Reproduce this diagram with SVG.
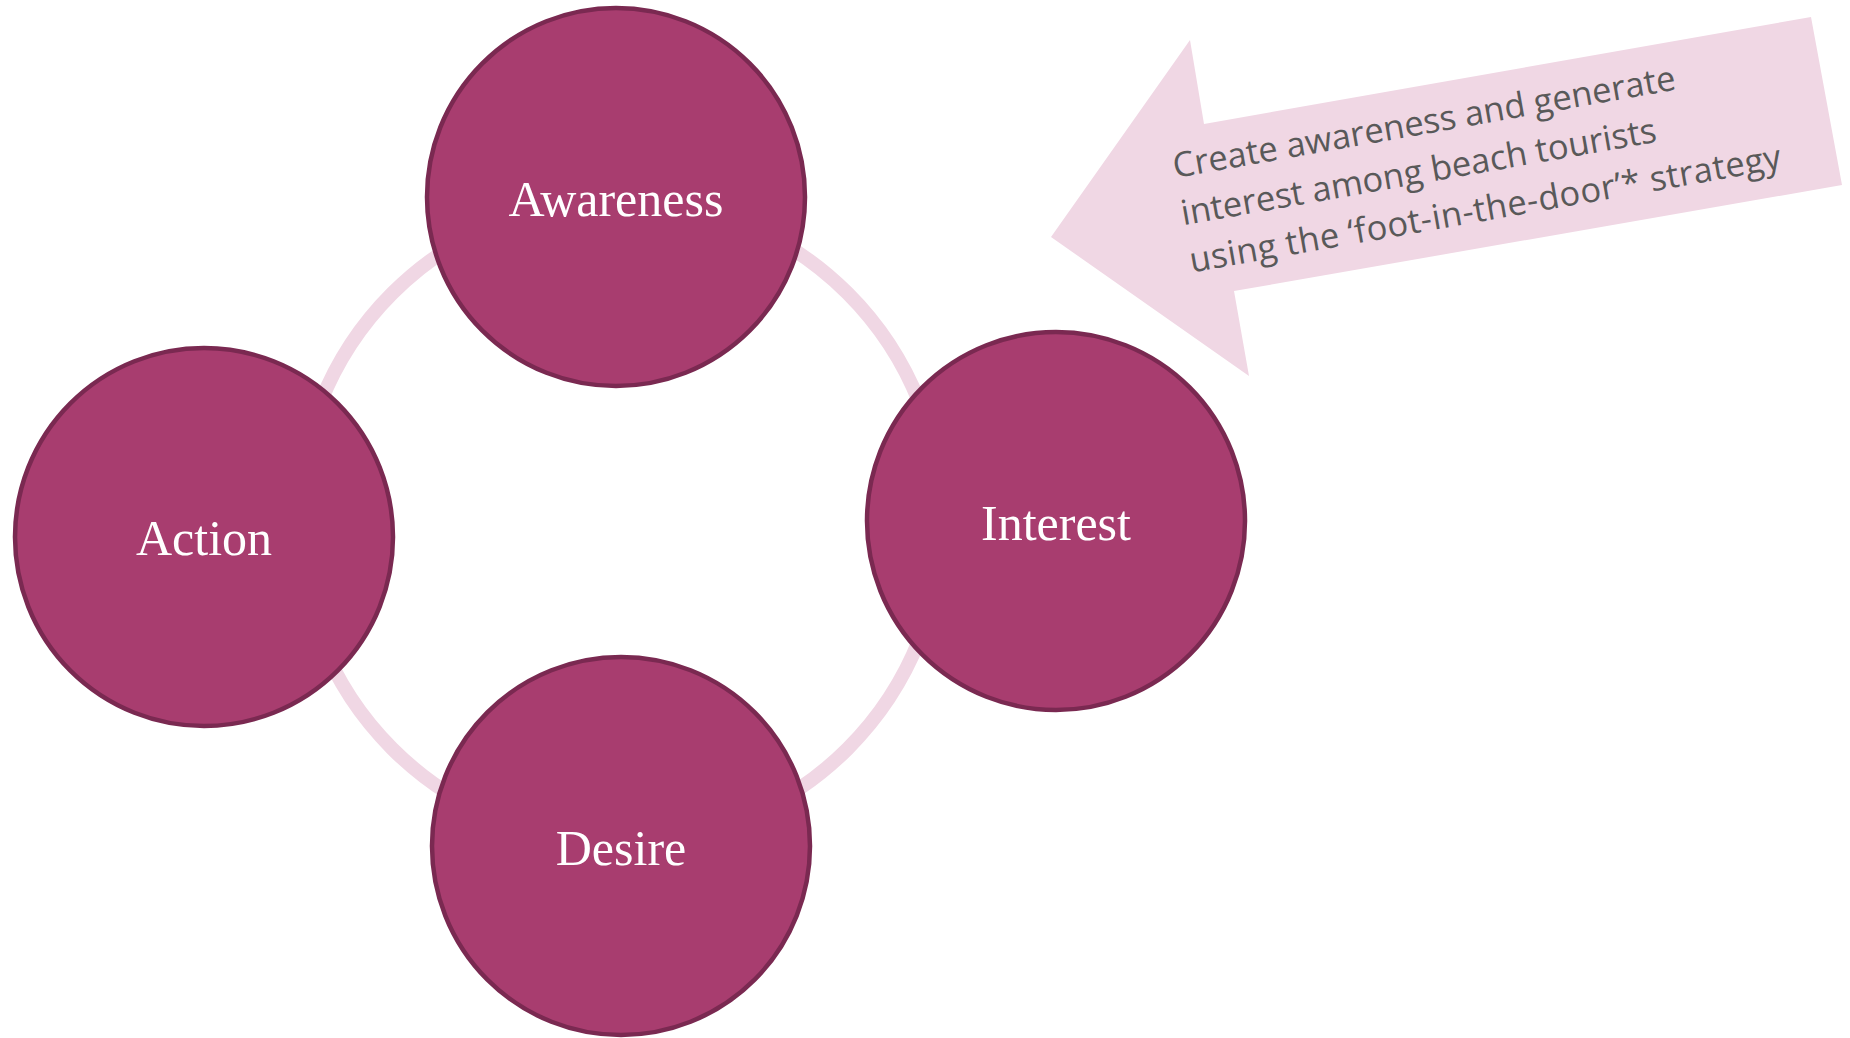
<svg xmlns="http://www.w3.org/2000/svg" width="1850" height="1038" viewBox="0 0 1850 1038">
  <style>
    .node { fill: #A83D6F; stroke: #7A2951; stroke-width: 4.5; }
    .label { font-family: "Liberation Serif", "Times New Roman", serif; font-size: 50px; fill: #FFFFFF; text-anchor: middle; }
    .ring { fill: none; stroke: #F0D7E4; stroke-width: 14; }
    .callout { fill: #F0D7E4; }
    .callout-text { font-family: "Open Sans", "Liberation Sans", sans-serif; font-size: 34.5px; fill: #595959; }
  </style>
  <rect width="1850" height="1038" fill="#FFFFFF"/>
  <g id="connectors">
    <circle class="ring" cx="620" cy="521" r="322"/>
  </g>
  <g id="node-awareness">
    <circle class="node" cx="616" cy="197" r="189"/>
    <text class="label" x="616" y="216">Awareness</text>
  </g>
  <g id="node-interest">
    <circle class="node" cx="1056" cy="521" r="189"/>
    <text class="label" x="1056" y="540">Interest</text>
  </g>
  <g id="node-desire">
    <circle class="node" cx="621" cy="846" r="189"/>
    <text class="label" x="621" y="865">Desire</text>
  </g>
  <g id="node-action">
    <circle class="node" cx="204" cy="537" r="189"/>
    <text class="label" x="204" y="555">Action</text>
  </g>
  <g id="callout-arrow">
    <polygon class="callout" points="1051,237 1190,40 1204,124 1811,17 1842,185 1234,291 1249,376"/>
    <text class="callout-text" transform="rotate(-10 1175 178)" x="1175" y="178">
      <tspan x="1175" y="178">Create awareness and generate</tspan>
      <tspan x="1175" y="226">interest among beach tourists</tspan>
      <tspan x="1175" y="274" textLength="600" lengthAdjust="spacing">using the ‘foot-in-the-door’* strategy</tspan>
    </text>
  </g>
</svg>
